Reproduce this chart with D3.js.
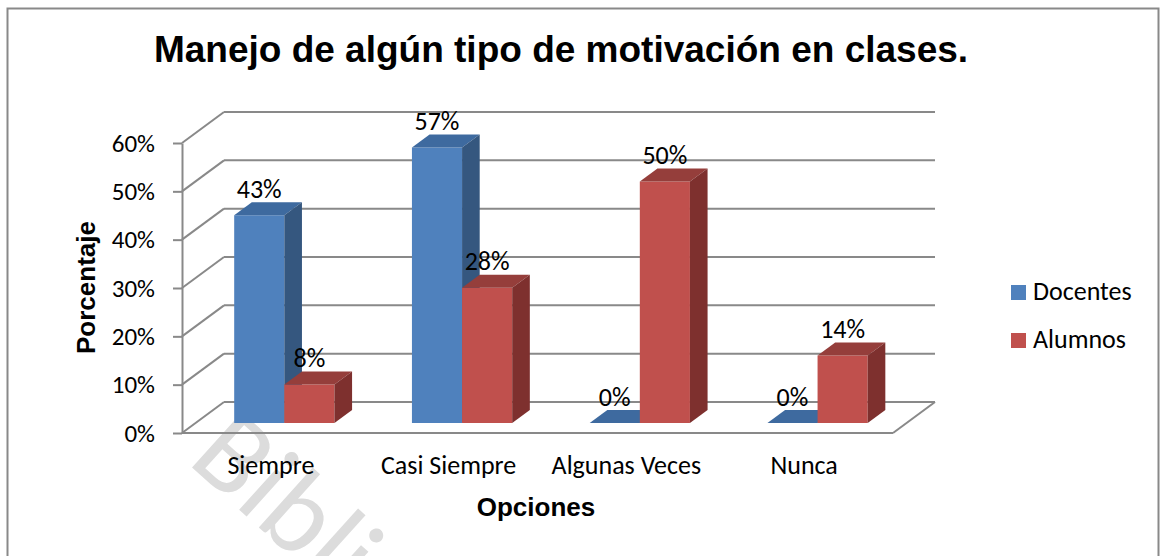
<!DOCTYPE html>
<html>
<head>
<meta charset="utf-8">
<script src="https://cdn.jsdelivr.net/npm/d3@7"></script>
<style>
  body { margin: 0; background: #fff; }
  svg { display: block; }
</style>
</head>
<body>
<div id="chart"></div>
<script>
// Data
const categories = ['Siempre', 'Casi Siempre', 'Algunas Veces', 'Nunca'];
const seriesNames = ['Docentes', 'Alumnos'];
const docentes = [0.43, 0.57, 0, 0];
const alumnos = [0.08, 0.28, 0.50, 0.14];
const yTicks = [0, 0.1, 0.2, 0.3, 0.4, 0.5, 0.6];

const width = 1162;
const height = 556;
const bodyFont = 'Carlito, Calibri, Lato, sans-serif';
const headFont = 'Arial, "Liberation Sans", sans-serif';
const lineColor = '#898989';
const textSize = '26px';

const colors = {
    Docentes: { front: '#4f81bd', top: '#3e6a9f', side: '#35577f' },
    Alumnos: { front: '#c0504d', top: '#953e3b', side: '#7e302e' }
};

// Oblique depth of the 3D box and the slice the bars occupy
const depth = { dx: 42, dy: -31 };
const barZ = [0.32, 0.74];

const svg = d3.select('#chart')
    .append('svg')
    .attr('width', width)
    .attr('height', height);

// Outer chart border
svg.append('rect')
    .attr('x', 7.5).attr('y', 8.5)
    .attr('width', 1151).attr('height', 560)
    .attr('fill', '#fff')
    .attr('stroke', lineColor)
    .attr('stroke-width', 2);

// Watermark (cut by the bottom edge, as in the source)
svg.append('text')
    .attr('transform', 'translate(186,462) rotate(42)')
    .style('font-family', bodyFont)
    .style('font-weight', 300)
    .style('font-size', '116px')
    .style('fill', '#dcdcdc')
    .text('Bibli');

// Scales
const x0 = d3.scaleBand().domain(categories).range([182, 893]);
const bw = x0.bandwidth();
const x1 = d3.scaleBand().domain(seriesNames).range([bw * 0.218, bw * 0.782]);
const y = d3.scaleLinear().domain([0, 0.6]).range([433, 143]);

const proj = (px, v, z) => [px + z * depth.dx, y(v) + z * depth.dy];
const [xMin, xMax] = x0.range();

// Back wall and side wall gridlines
const grid = svg.append('g')
    .attr('stroke', lineColor)
    .attr('stroke-width', 2)
    .attr('fill', 'none');

grid.selectAll('line.back')
    .data(yTicks)
    .enter()
    .append('line')
    .attr('class', 'back')
    .attr('x1', d => proj(xMin, d, 1)[0])
    .attr('y1', d => proj(xMin, d, 1)[1])
    .attr('x2', d => proj(xMax, d, 1)[0])
    .attr('y2', d => proj(xMax, d, 1)[1]);

grid.selectAll('line.side')
    .data(yTicks)
    .enter()
    .append('line')
    .attr('class', 'side')
    .attr('x1', d => proj(xMin, d, 0)[0])
    .attr('y1', d => proj(xMin, d, 0)[1])
    .attr('x2', d => proj(xMin, d, 1)[0])
    .attr('y2', d => proj(xMin, d, 1)[1]);

// Floor front and right edges
grid.append('line')
    .attr('x1', proj(xMin, 0, 0)[0]).attr('y1', proj(xMin, 0, 0)[1])
    .attr('x2', proj(xMax, 0, 0)[0]).attr('y2', proj(xMax, 0, 0)[1]);
grid.append('line')
    .attr('x1', proj(xMax, 0, 0)[0]).attr('y1', proj(xMax, 0, 0)[1])
    .attr('x2', proj(xMax, 0, 1)[0]).attr('y2', proj(xMax, 0, 1)[1]);

// Y axis
const yAxis = svg.append('g')
    .attr('transform', `translate(${xMin},0)`)
    .call(d3.axisLeft(y)
        .tickValues(yTicks)
        .tickFormat(d3.format('.0%'))
        .tickSize(9)
        .tickSizeOuter(0)
        .tickPadding(18));
yAxis.selectAll('path, line')
    .attr('stroke', lineColor)
    .attr('stroke-width', 2);
yAxis.selectAll('text')
    .style('font-family', bodyFont)
    .style('font-size', '25px')
    .attr('fill', '#000');

// X axis (category labels only)
const xAxis = svg.append('g')
    .attr('transform', `translate(0,${y(0)})`)
    .call(d3.axisBottom(x0).tickSize(0));
xAxis.select('.domain').remove();
xAxis.selectAll('text')
    .attr('y', 41)
    .attr('dy', 0)
    .style('font-family', bodyFont)
    .style('font-size', textSize)
    .attr('fill', '#000');

// Bars
const seriesValues = { Docentes: docentes, Alumnos: alumnos };
const bars = [];
categories.forEach((cat, i) => {
    seriesNames.forEach(s => {
        const xl = x0(cat) + x1(s);
        bars.push({ cat, s, v: seriesValues[s][i], xl, xr: xl + x1.bandwidth() });
    });
});

const poly = pts => pts.map(p => p.join(',')).join(' ');
const [z0, z1] = barZ;

const barG = svg.append('g').selectAll('g')
    .data(bars)
    .enter()
    .append('g');

barG.append('polygon')
    .attr('points', d => poly([proj(d.xl, 0, z0), proj(d.xr, 0, z0), proj(d.xr, d.v, z0), proj(d.xl, d.v, z0)]))
    .attr('fill', d => colors[d.s].front);
barG.append('polygon')
    .attr('points', d => poly([proj(d.xl, d.v, z0), proj(d.xr, d.v, z0), proj(d.xr, d.v, z1), proj(d.xl, d.v, z1)]))
    .attr('fill', d => colors[d.s].top);
barG.append('polygon')
    .attr('points', d => poly([proj(d.xr, 0, z0), proj(d.xr, 0, z1), proj(d.xr, d.v, z1), proj(d.xr, d.v, z0)]))
    .attr('fill', d => colors[d.s].side);

// Data labels
svg.append('g').selectAll('text')
    .data(bars)
    .enter()
    .append('text')
    .attr('x', d => (d.xl + d.xr) / 2 + z0 * depth.dx)
    .attr('y', d => proj(d.xl, d.v, z1)[1] - 13.5)
    .attr('dy', '0.35em')
    .attr('text-anchor', 'middle')
    .style('font-family', bodyFont)
    .style('font-size', textSize)
    .text(d => d3.format('.0%')(d.v));

// Title and axis titles
svg.append('text')
    .attr('x', 561).attr('y', 62)
    .attr('text-anchor', 'middle')
    .style('font-family', headFont)
    .style('font-weight', 'bold')
    .style('font-size', '37px')
    .text('Manejo de algún tipo de motivación en clases.');

svg.append('text')
    .attr('transform', 'translate(95,287.5) rotate(-90)')
    .attr('text-anchor', 'middle')
    .style('font-family', headFont)
    .style('font-weight', 'bold')
    .style('font-size', '26px')
    .text('Porcentaje');

svg.append('text')
    .attr('x', 536).attr('y', 516)
    .attr('text-anchor', 'middle')
    .style('font-family', headFont)
    .style('font-weight', 'bold')
    .style('font-size', '26px')
    .text('Opciones');

// Legend
const legend = svg.append('g').selectAll('g')
    .data(seriesNames)
    .enter()
    .append('g')
    .attr('transform', (d, i) => `translate(1011,${285 + i * 48})`);
legend.append('rect')
    .attr('width', 15).attr('height', 15)
    .attr('fill', d => colors[d].front);
legend.append('text')
    .attr('x', 22).attr('y', 15)
    .style('font-family', bodyFont)
    .style('font-size', textSize)
    .text(d => d);
</script>
</body>
</html>
